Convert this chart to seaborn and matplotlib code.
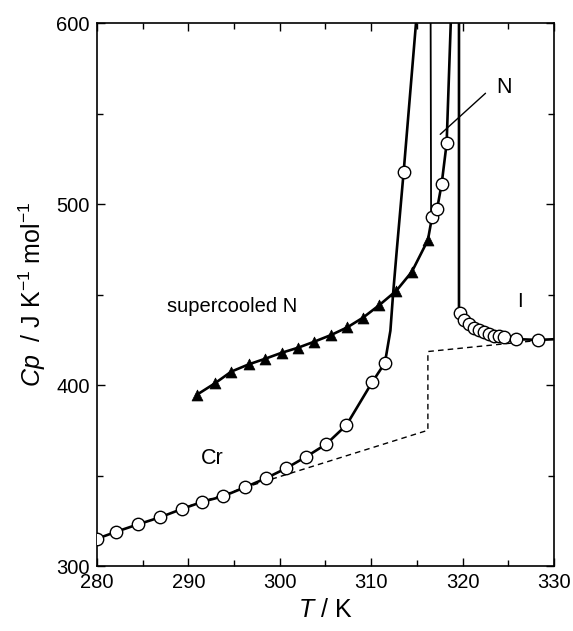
import matplotlib
matplotlib.use("Agg")
import matplotlib.pyplot as plt
import seaborn as sns
from matplotlib.ticker import MultipleLocator

# Cr (crystal) heat capacity, open circles
cr_T = [280.0, 282.15, 284.5, 286.9, 289.3, 291.55, 293.8, 296.2, 298.5,
        300.7, 302.9, 305.1, 307.3, 310.1, 311.5, 313.55]
cr_cp = [315.0, 319.0, 323.0, 326.9, 331.5, 335.5, 338.5, 343.5, 348.5,
         354.0, 360.4, 367.4, 377.9, 401.5, 412.2, 517.8]
# extra points on the steep melting branch
cr_peak_T = [312.1, 312.4, 312.8, 313.55, 314.9]
cr_peak_cp = [430.0, 450.7, 474.6, 517.8, 600.0]

# supercooled N, filled triangles
sc_T = [290.9, 292.9, 294.7, 296.6, 298.4, 300.2, 302.0, 303.8, 305.6,
        307.4, 309.1, 310.9, 312.75, 314.45, 316.2]
sc_cp = [394.5, 400.9, 407.4, 411.4, 414.5, 417.8, 420.6, 424.0, 427.6,
         431.9, 437.2, 444.2, 452.1, 462.6, 480.1]

# nematic, open circles
n_T = [316.65, 317.2, 317.7, 318.25]
n_cp = [492.7, 497.1, 510.9, 533.5]
n_peak_T = [318.7]
n_peak_cp = [600.0]

# jump at the Cr -> N transition
jump_T = [316.5, 316.55]
jump_cp = [600.0, 493.0]

# isotropic, open circles
iso_T = [319.7, 320.2, 320.7, 321.2, 321.75, 322.3, 322.85, 323.4, 323.95,
         324.5, 325.8, 328.2]
iso_cp = [439.6, 435.9, 433.7, 431.7, 430.4, 429.1, 428.0, 427.2, 427.0,
          426.3, 425.4, 424.9]
iso_start_T = [319.6, 319.6]
iso_start_cp = [600.0, 439.6]
iso_end_T = [330.0]
iso_end_cp = [425.3]

# dashed baseline
base_T = [290.0, 297.1, 316.2, 316.2, 328.0]
base_cp = [333.0, 344.8, 375.0, 418.5, 424.5]

sns.set_theme(style="ticks")
plt.rcParams["font.family"] = ["Liberation Sans", "DejaVu Sans"]
plt.rcParams["mathtext.fontset"] = "custom"
plt.rcParams["mathtext.rm"] = "Liberation Sans"
plt.rcParams["mathtext.it"] = "Liberation Sans:italic"
for key in ["text.color", "axes.labelcolor", "xtick.color", "ytick.color",
            "axes.edgecolor"]:
    plt.rcParams[key] = "black"

fig = plt.figure(figsize=(5.73, 6.31), dpi=100)
ax = fig.add_axes([0.169, 0.103, 0.798, 0.8605])


def line(xs, ys, lw=1.5, ls="-"):
    sns.lineplot(x=xs, y=ys, sort=False, estimator=None, color="black",
                 linewidth=lw, linestyle=ls, ax=ax, zorder=2)


line(base_T, base_cp, lw=1.0, ls=(0, (4, 3)))
line(cr_T[:-1] + cr_peak_T, cr_cp[:-1] + cr_peak_cp, lw=1.9)
line(sc_T + n_T + n_peak_T, sc_cp + n_cp + n_peak_cp, lw=1.9)
line(jump_T, jump_cp, lw=1.3)
line(iso_start_T + iso_T + iso_end_T, iso_start_cp + iso_cp + iso_end_cp, lw=1.9)

circle_style = dict(marker="o", s=80, facecolor="white", edgecolor="black",
                    linewidth=1.0, zorder=4, legend=False)
sns.scatterplot(x=cr_T, y=cr_cp, ax=ax, **circle_style)
sns.scatterplot(x=n_T, y=n_cp, ax=ax, **circle_style)
sns.scatterplot(x=iso_T, y=iso_cp, ax=ax, **circle_style)
sns.scatterplot(x=sc_T, y=sc_cp, marker="^", s=62, color="black",
                edgecolor="black", linewidth=0.5, zorder=4, ax=ax, legend=False)

# labels inside the plot
ax.text(287.63, 440.2, "supercooled N", fontsize=14.5, ha="left", va="baseline")
ax.text(291.35, 356.4, "Cr", fontsize=15.5, ha="left", va="baseline")
ax.text(326.3, 443.3, "I", fontsize=14.5, ha="center", va="baseline")
ax.text(323.7, 561.5, "N", fontsize=15.5, ha="left", va="baseline")
ax.plot([317.55, 322.5], [538.5, 561.2], color="black", linewidth=1.0)

ax.set_xlim(280, 330)
ax.set_ylim(300, 600)
ax.xaxis.set_major_locator(MultipleLocator(10))
ax.xaxis.set_minor_locator(MultipleLocator(5))
ax.yaxis.set_major_locator(MultipleLocator(100))
ax.yaxis.set_minor_locator(MultipleLocator(50))
ax.tick_params(which="both", direction="in", top=True, right=True,
               color="black", width=1.0, labelsize=14.5, pad=5)
ax.tick_params(which="major", length=6)
ax.tick_params(which="minor", length=4)
for spine in ax.spines.values():
    spine.set_visible(True)
    spine.set_color("black")
    spine.set_linewidth(1.2)

ax.set_xlabel(r"$\it{T}$ / K", fontsize=18, labelpad=4)
ax.set_ylabel(r"$\it{Cp}$  / J K$^{-1}$ mol$^{-1}$", fontsize=18, labelpad=6)

fig.savefig("out.png", dpi=100)
